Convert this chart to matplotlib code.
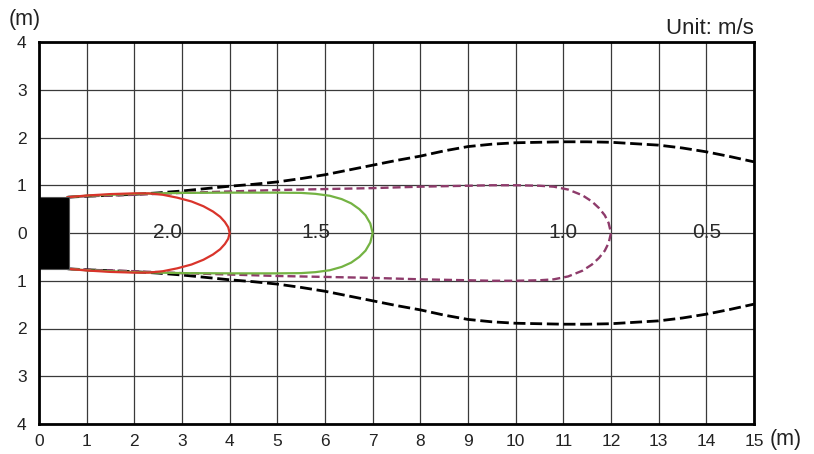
import matplotlib
matplotlib.use("Agg")
import matplotlib.pyplot as plt
import numpy as np
from matplotlib.patches import Rectangle

plt.rcParams['font.family'] = ['Liberation Sans', 'DejaVu Sans']

# ---- data (upper half of each symmetric contour, in metres) ----
x_ticks = list(range(0, 16))
y_ticks = list(range(-4, 5))
y_tick_labels = ["4", "3", "2", "1", "0", "1", "2", "3", "4"]

unit_width = 0.63
unit_half_height = 0.75

red_x = [0.6, 1.0, 1.5, 2.0, 2.3, 2.6, 2.9, 3.2, 3.45, 3.65, 3.8, 3.9, 3.97, 4.0]
red_y = [0.75, 0.785, 0.815, 0.83, 0.83, 0.80, 0.74, 0.66, 0.56, 0.45, 0.34, 0.23, 0.12, 0.0]

green_x = [0.6, 1.0, 1.5, 2.0, 2.5, 3.0, 4.0, 5.0, 5.5, 5.8, 6.1, 6.35, 6.55, 6.72, 6.85, 6.95, 7.0]
green_y = [0.75, 0.78, 0.80, 0.82, 0.83, 0.84, 0.845, 0.845, 0.84, 0.82, 0.78, 0.71, 0.62, 0.50, 0.37, 0.20, 0.0]

purple_x = [0.6, 1.0, 1.5, 2.0, 3.0, 4.0, 5.0, 6.0, 7.0, 8.0, 9.0, 9.5, 10.0, 10.5, 10.8, 11.1,
            11.4, 11.6, 11.75, 11.87, 11.95, 12.0]
purple_y = [0.75, 0.77, 0.785, 0.80, 0.84, 0.87, 0.90, 0.92, 0.94, 0.97, 0.99, 1.0, 1.0, 0.99, 0.97, 0.91,
            0.79, 0.66, 0.52, 0.37, 0.21, 0.0]

black_x = [0.6, 1.0, 1.5, 2.0, 2.5, 3.0, 3.5, 4.0, 4.5, 5.0, 5.5, 6.0, 6.5, 7.0, 7.5, 8.0, 8.5, 9.0,
           9.5, 10.0, 10.5, 11.0, 11.5, 12.0, 12.5, 13.0, 13.5, 14.0, 14.5, 15.0]
black_y = [0.75, 0.77, 0.79, 0.81, 0.84, 0.88, 0.93, 0.98, 1.02, 1.07, 1.14, 1.22, 1.32, 1.42, 1.52, 1.61,
           1.72, 1.81, 1.86, 1.89, 1.90, 1.91, 1.91, 1.90, 1.87, 1.84, 1.78, 1.70, 1.60, 1.49]

labels = ["2.0", "1.5", "1.0", "0.5"]
label_x = [2.7, 5.8, 11.0, 14.0]

# ---- figure ----
fig = plt.figure(figsize=(8.14, 4.54), dpi=100)
ax = fig.add_axes([39 / 814, 30 / 454, 715 / 814, 382 / 454])
ax.set_xlim(0, 15)
ax.set_ylim(-4, 4)

for v in x_ticks:
    ax.axvline(v, color='#3a3a3a', lw=0.9, zorder=1)
for v in y_ticks:
    ax.axhline(v, color='#3a3a3a', lw=0.9, zorder=1)

def closed(xs, ys):
    xs = np.asarray(xs)
    ys = np.asarray(ys)
    return np.concatenate([xs, xs[::-1][1:]]), np.concatenate([ys, -ys[::-1][1:]])

# outer 0.5 m/s contour: open towards the right, draw both halves separately
ax.plot(black_x, black_y, color='black', lw=2.0, dashes=(4.3, 1.7), zorder=3)
ax.plot(black_x, [-v for v in black_y], color='black', lw=2.0, dashes=(4.3, 1.7), zorder=3)
px, py = closed(purple_x, purple_y)
ax.plot(px, py, color='#8E3B6B', lw=1.7, dashes=(3.4, 1.7), zorder=4)
gx, gy = closed(green_x, green_y)
ax.plot(gx, gy, color='#74B343', lw=1.6, zorder=5)
rx, ry = closed(red_x, red_y)
ax.plot(rx, ry, color='#D9342B', lw=1.6, zorder=6)

ax.add_patch(Rectangle((0, -unit_half_height), unit_width, 2 * unit_half_height,
                       facecolor='black', edgecolor='#555555', lw=0.8, zorder=7))

for t, lx in zip(labels, label_x):
    ax.text(lx, 0, t, ha='center', va='center', fontsize=15, color='#2a2a2a', zorder=8)

ax.set_xticks(x_ticks)
ax.set_xticklabels([str(v) for v in x_ticks])
ax.set_yticks(y_ticks)
ax.set_yticklabels(y_tick_labels)
ax.tick_params(axis='both', length=0, labelsize=12.5, colors='#222222')
ax.tick_params(axis='x', pad=7)
ax.tick_params(axis='y', pad=9)
for s in ax.spines.values():
    s.set_linewidth(2.0)
    s.set_color('black')
    s.set_zorder(10)

fig.text(25 / 814, 1 - 20 / 454, "(m)", ha='center', va='center', fontsize=15.5, color='#222222')
fig.text(754 / 814, 1 - 34 / 454, "Unit: m/s", ha='right', va='baseline', fontsize=16, color='#222222')
fig.text(770 / 814, 1 - 439 / 454, "(m)", ha='left', va='center', fontsize=15.5, color='#222222')

fig.savefig("out.png", dpi=100)
